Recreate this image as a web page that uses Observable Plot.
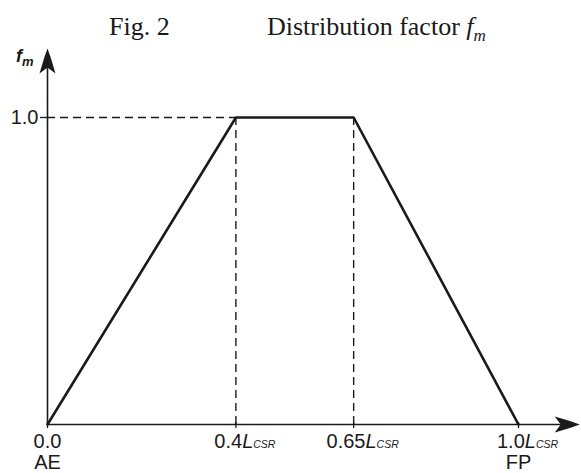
<!DOCTYPE html>
<html>
<head>
<meta charset="utf-8">
<script src="https://cdn.jsdelivr.net/npm/d3@7"></script>
<script src="https://cdn.jsdelivr.net/npm/@observablehq/plot@0.6"></script>
<style>
  html, body { margin: 0; padding: 0; background: #fff; }
  #wrap { width: 581px; height: 473px; position: relative; overflow: hidden; }
  #title { position: relative; height: 45px; font-family: "Liberation Serif", "Times New Roman", serif; font-size: 26px; color: #1a1a1a; }
  #title span.t { position: absolute; top: 14px; line-height: 26px; white-space: nowrap; }
  #title i sub { font-size: 17px; vertical-align: -6px; line-height: 0; }
</style>
</head>
<body>
<div id="wrap">
  <div id="title"><span class="t" style="left:109px">Fig. 2</span><span class="t" style="left:267px">Distribution factor <i>f<sub>m</sub></i></span></div>
  <div id="chart"></div>
</div>
<script>
// ---- data ----
const profileX = [0, 0.4, 0.65, 1.0];
const profileY = [0, 1.0, 1.0, 0];
const guideX = [0.4, 0.65];          // dashed verticals
const guideLevel = 1.0;              // dashed horizontal level
const xTickValues = [0, 0.4, 0.65, 1.0];
const xTickNumbers = ["0.0", "0.4", "0.65", "1.0"];
const xTickUnit = ["", "L", "L", "L"];
const xTickUnitSub = "CSR";
const endX = [0, 1.0];
const endText = ["AE", "FP"];
const yTickValues = [1.0];
const yTickLabels = ["1.0"];
const xAxisEnd = 1.13;   // arrow tip of x axis (data units)
const yAxisEnd = 1.225;  // arrow tip of y axis (data units)
const yAxisName = "f";
const yAxisNameSub = "m";

const profile = profileX.map((x, i) => ({x, y: profileY[i]}));
const ticks = xTickValues.map((x, i) => ({x, num: xTickNumbers[i], unit: xTickUnit[i]}));
const ends = endX.map((x, i) => ({x, text: endText[i]}));
const yTicks = yTickValues.map((y, i) => ({y, label: yTickLabels[i]}));

const ink = "#1a1a1a";
// filled arrowhead, tip at the origin, pointing up, notched base
const arrowHead = {
  draw(ctx) {
    ctx.moveTo(0, 0);
    ctx.lineTo(3.2, 9);
    ctx.lineTo(8, 25);
    ctx.lineTo(0, 19);
    ctx.lineTo(-8, 25);
    ctx.lineTo(-3.2, 9);
    ctx.closePath();
  }
};

const labelFont = "'Liberation Sans', Arial, sans-serif";

const unitLabelMark = Plot.text(ticks.filter(d => d.unit), {x: "x", y: () => 0, text: "num", dx: 9, dy: 23.5, lineAnchor: "bottom", fontSize: 20, fill: ink});
const yNameMark = Plot.text([{x: 0, y: yAxisEnd}], {x: "x", y: "y", text: () => yAxisName, dx: -14, dy: 14, textAnchor: "end", lineAnchor: "bottom", fontSize: 18, fontWeight: "bold", fontStyle: "italic", fill: ink});

const marks = [
  // dashed guides
  Plot.ruleY([guideLevel], {x1: 0, x2: guideX[0], stroke: ink, strokeWidth: 1.4, strokeDasharray: "8,5"}),
  Plot.ruleX(guideX, {y1: 0, y2: guideLevel, stroke: ink, strokeWidth: 1.4, strokeDasharray: "8,5"}),
  // axes
  Plot.ruleY([0], {x1: 0, x2: xAxisEnd - 0.03, stroke: ink, strokeWidth: 1.6}),
  Plot.ruleX([0], {y1: 0, y2: yAxisEnd - 0.04, stroke: ink, strokeWidth: 1.6}),
  Plot.dot([{x: xAxisEnd, y: 0}], {x: "x", y: "y", symbol: arrowHead, rotate: 90, fill: ink, stroke: "none"}),
  Plot.dot([{x: 0, y: yAxisEnd}], {x: "x", y: "y", symbol: arrowHead, fill: ink, stroke: "none"}),
  // tick marks
  Plot.ruleX(xTickValues, {y1: 0, y2: 0, insetTop: -2, insetBottom: -4, stroke: ink, strokeWidth: 1.3}),
  Plot.ruleY(yTickValues, {x1: 0, x2: 0, insetLeft: -7, insetRight: -1, stroke: ink, strokeWidth: 1.3}),
  // profile
  Plot.line(profile, {x: "x", y: "y", stroke: ink, strokeWidth: 2.6, strokeLinejoin: "miter"}),
  // x tick labels
  Plot.text(ticks.filter(d => !d.unit), {x: "x", y: () => 0, text: "num", dy: 23.5, lineAnchor: "bottom", fontSize: 20, fill: ink}),
  unitLabelMark,
  Plot.text(ends, {x: "x", y: () => 0, text: "text", dy: 44.5, lineAnchor: "bottom", fontSize: 20, fill: ink}),
  // y tick label
  Plot.text(yTicks, {x: () => 0, y: "y", text: "label", dx: -9, textAnchor: "end", lineAnchor: "middle", fontSize: 20, fill: ink}),
  // y axis name
  yNameMark
];

const plot = Plot.plot({
  width: 581,
  height: 428,
  marginLeft: 47,
  marginRight: 63,
  marginTop: 72,
  marginBottom: 49,
  x: {domain: [0, 1], axis: null},
  y: {domain: [0, 1], axis: null},
  style: {fontFamily: labelFont, fontSize: "20px", color: ink, background: "white", overflow: "visible"},
  marks
});

// enrich labels with tspans (italic L + small CSR; subscript m)
const groups = d3.select(plot).selectAll(":scope > g").nodes();
d3.select(groups[marks.indexOf(unitLabelMark)]).selectAll("text").each(function() {
  const t = d3.select(this);
  t.append("tspan").attr("font-style", "italic").text("L");
  t.append("tspan").attr("font-style", "italic").attr("font-size", 10.5).text(xTickUnitSub);
});
d3.select(groups[marks.indexOf(yNameMark)]).selectAll("text").each(function() {
  const t = d3.select(this);
  t.text("");
  t.append("tspan").text(yAxisName);
  t.append("tspan").attr("font-size", 13).attr("dy", 4).text(yAxisNameSub);
});

document.getElementById("chart").appendChild(plot);
</script>
</body>
</html>
